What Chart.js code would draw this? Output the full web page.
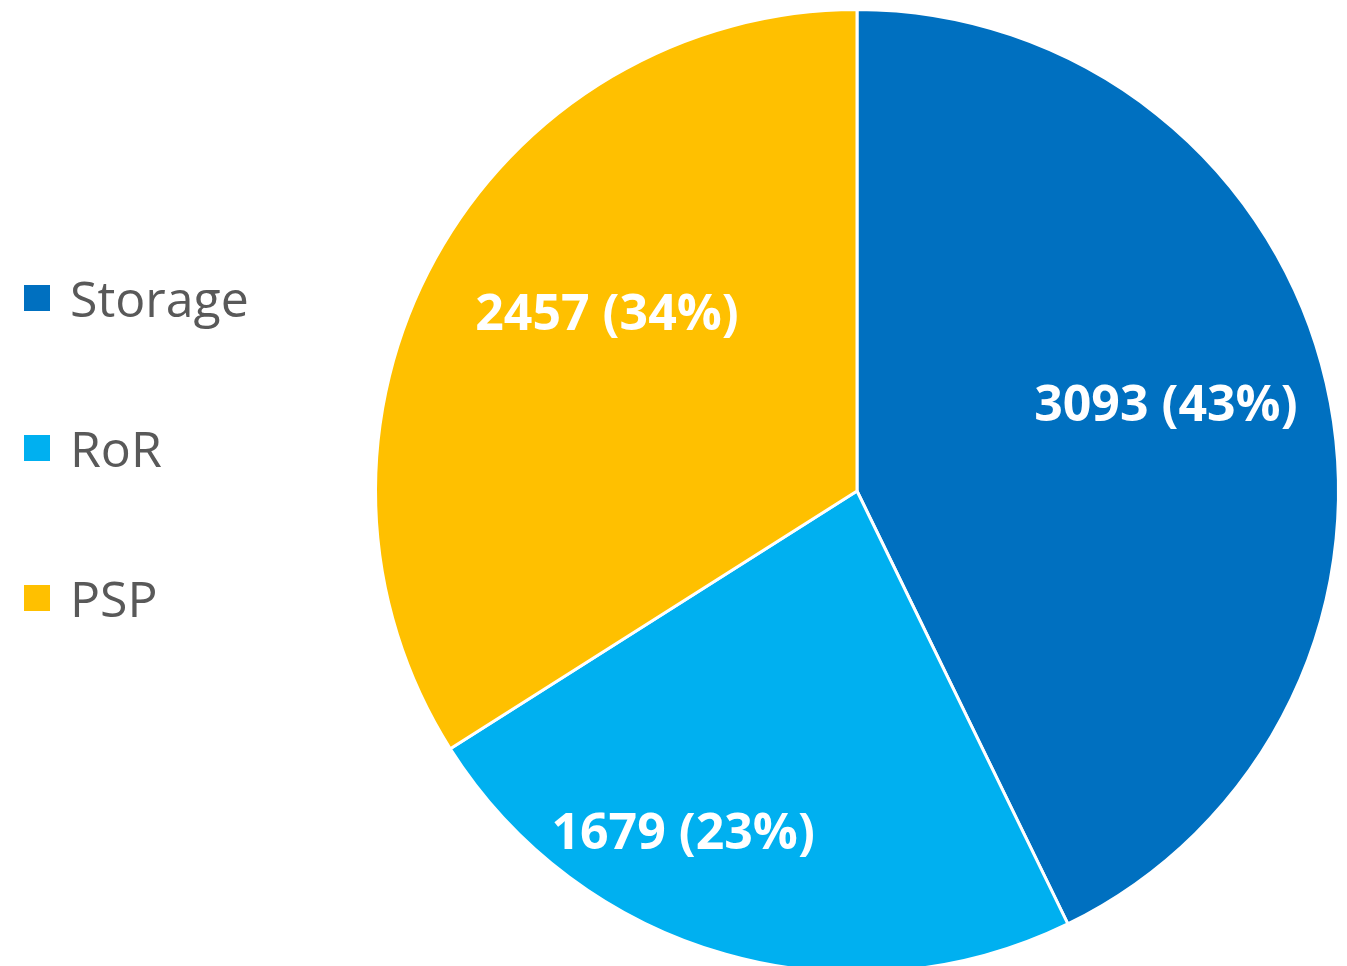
<!DOCTYPE html>
<html>
<head>
<meta charset="utf-8">
<script src="https://cdn.jsdelivr.net/npm/chart.js@4/dist/chart.umd.min.js"></script>
<style>
    html, body { margin: 0; padding: 0; background: #fff; overflow: hidden; }
    #wrap { position: relative; width: 1347px; height: 982px; }
    #legend { position: absolute; left: 24px; top: 272px; font-family: "Open Sans", sans-serif; }
    .item { display: flex; align-items: center; height: 52px; margin-bottom: 98px; }
    .box { width: 26px; height: 26px; margin-right: 20px; }
    .txt { font-size: 50px; color: #595959; line-height: 52px; }
</style>
</head>
<body>
<div id="wrap">
    <canvas id="pieChart" width="1347" height="982"></canvas>
    <div id="legend"></div>
</div>
<script>
const categories = ["Storage", "RoR", "PSP"];
const values = [3093, 1679, 2457];
const percents = [43, 23, 34];
const colors = ["#0070C0", "#00B0F0", "#FFC000"];

// value labels drawn inside each slice
const sliceLabels = {
    id: "sliceLabels",
    afterDatasetsDraw(chart, args, opts) {
        const ctx = chart.ctx;
        const meta = chart.getDatasetMeta(0);
        ctx.save();
        ctx.font = "bold 50px 'Open Sans', sans-serif";
        ctx.fillStyle = "#fff";
        ctx.textAlign = "center";
        ctx.textBaseline = "middle";
        meta.data.forEach((arc, i) => {
            const p = arc.getProps(["x", "y", "startAngle", "endAngle", "outerRadius"], true);
            const nudge = opts.nudge[i];
            const mid = (p.startAngle + p.endAngle) / 2 + nudge.angle * Math.PI / 180;
            const r = p.outerRadius * nudge.ratio;
            const text = values[i] + " (" + percents[i] + "%)";
            ctx.fillText(text, p.x + Math.cos(mid) * r, p.y + Math.sin(mid) * r);
        });
        ctx.restore();
    }
};

const chart = new Chart(document.getElementById("pieChart"), {
    type: "pie",
    data: {
        labels: categories,
        datasets: [{
            data: values,
            backgroundColor: colors,
            borderColor: "#fff",
            borderWidth: 3
        }]
    },
    options: {
        responsive: false,
        animation: false,
        events: [],
        layout: { padding: { left: 367, top: 8, bottom: 8 } },
        plugins: {
            legend: { display: false },
            tooltip: { enabled: false },
            sliceLabels: {
                nudge: [
                    { angle: -2.3, ratio: 0.665 },
                    { angle: 11, ratio: 0.8 },
                    { angle: 6.2, ratio: 0.634 }
                ]
            }
        }
    },
    plugins: [sliceLabels]
});

// html legend from the chart's own legend items
const legendEl = document.getElementById("legend");
chart.options.plugins.legend.labels.generateLabels(chart).forEach(item => {
    const row = document.createElement("div");
    row.className = "item";
    row.innerHTML = '<span class="box" style="background:' + item.fillStyle + '"></span><span class="txt">' + item.text + '</span>';
    legendEl.appendChild(row);
});
</script>
</body>
</html>
